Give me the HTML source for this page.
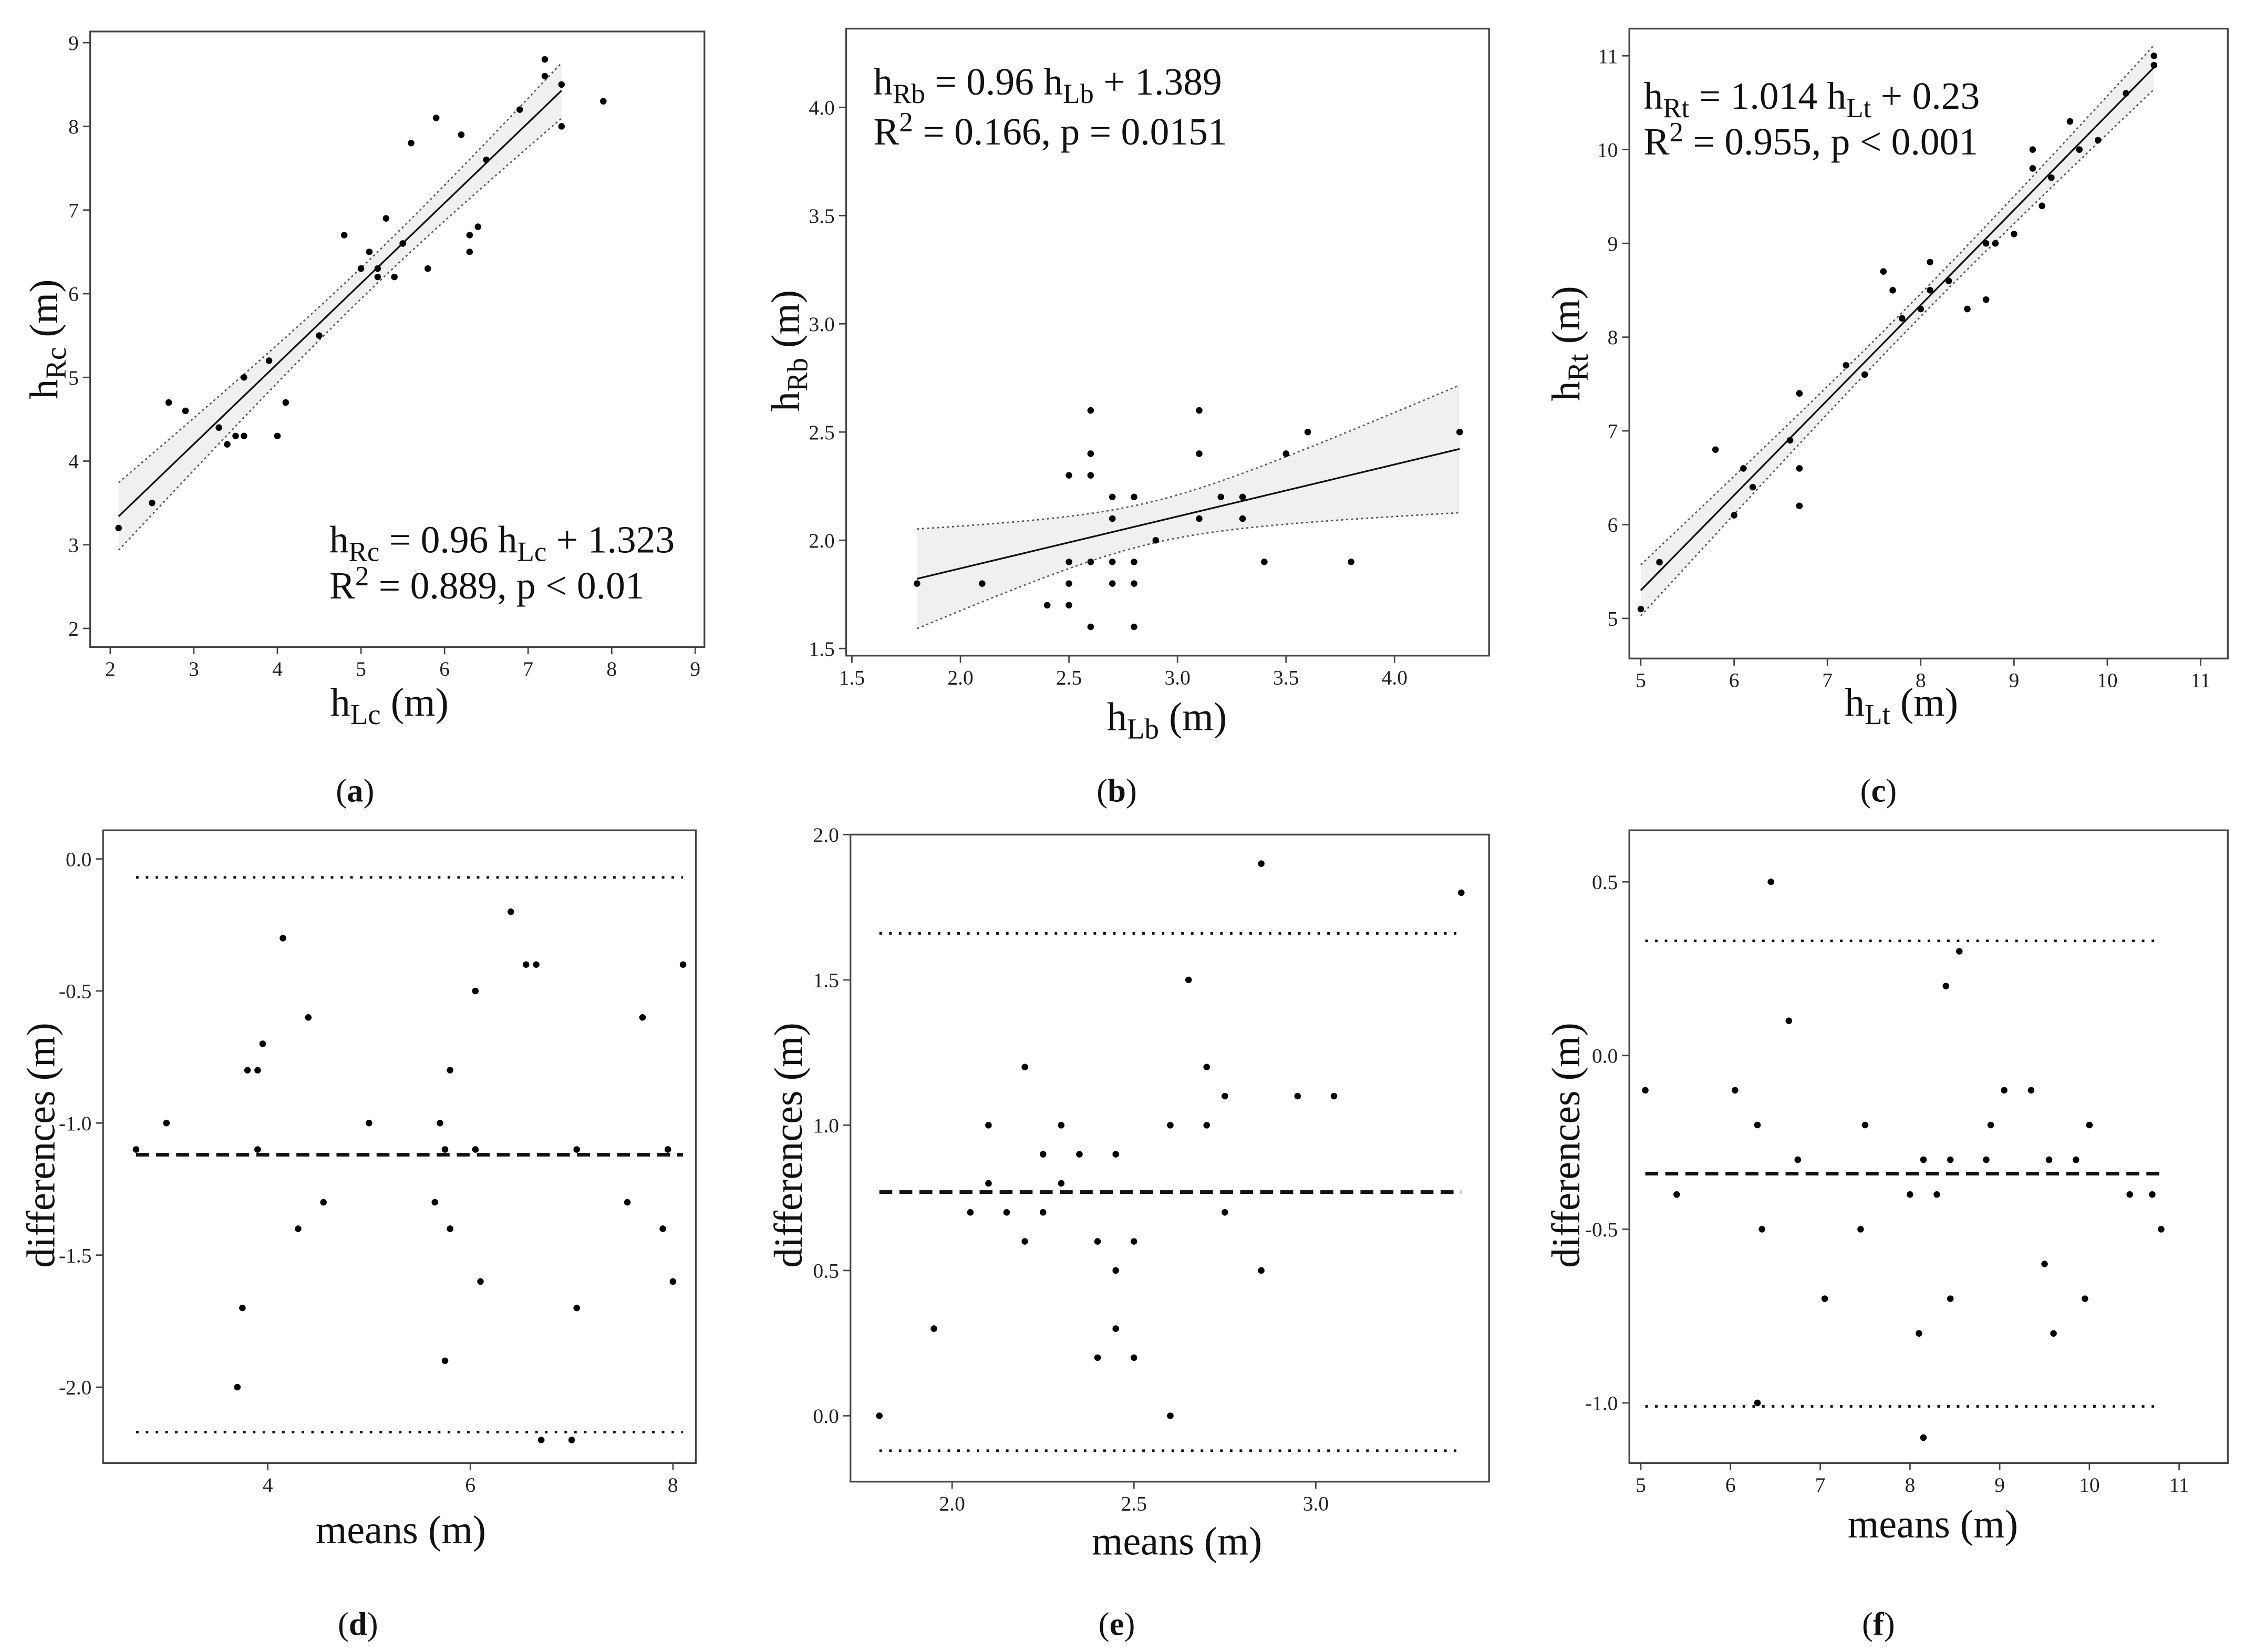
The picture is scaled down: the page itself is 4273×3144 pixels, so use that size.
<!DOCTYPE html>
<html><head><meta charset="utf-8"><style>
html,body{margin:0;padding:0;background:#fff;}
svg{display:block;font-family:"Liberation Serif",serif;}
</style></head><body>
<svg id="fig" xmlns="http://www.w3.org/2000/svg" width="4273" height="3144" viewBox="0 0 1568 1154" preserveAspectRatio="none"></svg>
<script>
// ---- data ----
const aX=[2.1,2.5,2.7,2.9,3.3,3.4,3.5,3.6,3.6,3.9,4.0,4.1,4.5,4.8,5.0,5.1,5.2,5.2,5.3,5.4,5.5,5.6,5.8,5.9,6.2,6.3,6.3,6.4,6.5,6.9,7.2,7.2,7.4,7.4,7.9];
const aY=[3.2,3.5,4.7,4.6,4.4,4.2,4.3,4.3,5.0,5.2,4.3,4.7,5.5,6.7,6.3,6.5,6.2,6.3,6.9,6.2,6.6,7.8,6.3,8.1,7.9,6.7,6.5,6.8,7.6,8.2,8.8,8.6,8.5,8.0,8.3];
const aFit=[0.96,1.323];
const aRange=[2.1,7.4];
const bX=[1.8,2.1,2.4,2.5,2.5,2.5,2.5,2.6,2.6,2.6,2.6,2.6,2.7,2.7,2.7,2.7,2.8,2.8,2.8,2.8,2.9,3.1,3.1,3.1,3.2,3.3,3.3,3.4,3.5,3.6,3.8,4.3];
const bY=[1.8,1.8,1.7,2.3,1.9,1.8,1.7,2.6,2.4,2.3,1.9,1.6,2.2,2.1,1.9,1.8,2.2,1.9,1.8,1.6,2.0,2.6,2.4,2.1,2.2,2.2,2.1,1.9,2.4,2.5,1.9,2.5];
const bFit=[0.24,1.39];
const bRange=[1.8,4.3];
const cX=[5.0,5.2,5.8,6.0,6.1,6.2,6.6,6.7,6.7,6.7,7.2,7.4,7.6,7.7,7.8,8.0,8.1,8.1,8.3,8.5,8.7,8.7,8.8,9.0,9.2,9.2,9.3,9.4,9.6,9.7,9.9,10.2,10.5,10.5];
const cY=[5.1,5.6,6.8,6.1,6.6,6.4,6.9,7.4,6.6,6.2,7.7,7.6,8.7,8.5,8.2,8.3,8.5,8.8,8.6,8.3,8.4,9.0,9.0,9.1,10.0,9.8,9.4,9.7,10.3,10.0,10.1,10.6,11.0,10.9];
const cFit=[1.014,0.23];
const cRange=[5.0,10.5];
const dX=[2.7,3.0,3.7,3.75,3.8,3.9,3.9,3.95,4.15,4.3,4.4,4.55,5.0,5.65,5.7,5.75,5.75,5.8,5.8,6.05,6.05,6.1,6.4,6.55,6.65,6.7,7.0,7.05,7.05,7.55,7.7,7.9,7.95,8.0,8.1];
const dY=[-1.1,-1.0,-2.0,-1.7,-0.8,-0.8,-1.1,-0.7,-0.3,-1.4,-0.6,-1.3,-1.0,-1.3,-1.0,-1.1,-1.9,-0.8,-1.4,-0.5,-1.1,-1.6,-0.2,-0.4,-0.4,-2.2,-2.2,-1.7,-1.1,-1.3,-0.6,-1.4,-1.1,-1.6,-0.4];
const dLines=[-1.12,-0.07,-2.17];
const eX=[1.8,1.95,2.05,2.1,2.1,2.15,2.2,2.2,2.25,2.25,2.3,2.3,2.35,2.4,2.4,2.45,2.45,2.45,2.5,2.5,2.6,2.6,2.65,2.7,2.7,2.75,2.75,2.85,2.85,2.95,3.05,3.4];
const eY=[0.0,0.3,0.7,1.0,0.8,0.7,1.2,0.6,0.9,0.7,1.0,0.8,0.9,0.6,0.2,0.9,0.5,0.3,0.6,0.2,1.0,0.0,1.5,1.2,1.0,1.1,0.7,1.9,0.5,1.1,1.1,1.8];
const eLines=[0.77,1.66,-0.12];
const fX=[5.05,5.4,6.05,6.3,6.3,6.35,6.45,6.65,6.75,7.05,7.45,7.5,8.0,8.1,8.15,8.15,8.3,8.4,8.45,8.45,8.55,8.85,8.9,9.05,9.35,9.5,9.55,9.6,9.85,9.95,10.0,10.45,10.7,10.8];
const fY=[-0.1,-0.4,-0.1,-0.2,-1.0,-0.5,0.5,0.1,-0.3,-0.7,-0.5,-0.2,-0.4,-0.8,-0.3,-1.1,-0.4,0.2,-0.3,-0.7,0.3,-0.3,-0.2,-0.1,-0.1,-0.6,-0.3,-0.8,-0.3,-0.7,-0.2,-0.4,-0.4,-0.5];
const fLines=[-0.34,0.33,-1.01];
const aTicksX=[2,3,4,5,6,7,8,9], aTicksY=[2,3,4,5,6,7,8,9];
const bTicksX=["1.5","2.0","2.5","3.0","3.5","4.0"], bTicksY=["1.5","2.0","2.5","3.0","3.5","4.0"];
const cTicksX=[5,6,7,8,9,10,11], cTicksY=[5,6,7,8,9,10,11];
const dTicksX=[4,6,8], dTicksY=["0.0","-0.5","-1.0","-1.5","-2.0"];
const eTicksX=["2.0","2.5","3.0"], eTicksY=["0.0","0.5","1.0","1.5","2.0"];
const fTicksX=[5,6,7,8,9,10,11], fTicksY=["0.5","0.0","-0.5","-1.0"];

// ---- drawing ----
const NS="http://www.w3.org/2000/svg";
const svg=document.getElementById('fig');
function mk(tag,attrs,parent){const e=document.createElementNS(NS,tag);for(const k in attrs)e.setAttribute(k,attrs[k]);(parent||svg).appendChild(e);return e;}
function panel(cfg){
  const g=mk('g',{});
  
  
  const sx=v=>cfg.px0+(v-cfg.vx0)*(cfg.px1-cfg.px0)/(cfg.vx1-cfg.vx0);
  const sy=v=>cfg.py0+(v-cfg.vy0)*(cfg.py1-cfg.py0)/(cfg.vy1-cfg.vy0);
  const box=mk('rect',{x:cfg.L,y:cfg.T,width:cfg.R-cfg.L,height:cfg.B-cfg.T,fill:'#fff',stroke:'#444','stroke-width':1.2},g);
  
  
  cfg.tx.forEach(t=>{const x=sx(+t);
    mk('line',{x1:x,x2:x,y1:cfg.B,y2:cfg.B+5,stroke:'#444','stroke-width':1},g);
    const tt=mk('text',{x:x,y:cfg.B+20,'font-size':14.5,'text-anchor':'middle',fill:'#222'},g);tt.textContent=t;
    
    });
  cfg.ty.forEach(t=>{const y=sy(+t);
    mk('line',{x1:cfg.L-5,x2:cfg.L,y1:y,y2:y,stroke:'#444','stroke-width':1},g);
    const tt=mk('text',{x:cfg.L-8,y:y+5,'font-size':14.5,'text-anchor':'end',fill:'#222'},g);tt.textContent=t;
    
    });
  if(cfg.fit){
    const X=cfg.X,Y=cfg.Y,n=X.length,[m,c]=cfg.fit;
    const xm=X.reduce((a,b)=>a+b,0)/n;let sxx=0,ss=0;
    X.forEach((x,i)=>{sxx+=(x-xm)**2;ss+=(Y[i]-(m*x+c))**2;});
    const s=Math.sqrt(ss/(n-2));
    const hw=x=>2.03*s*Math.sqrt(1/n+(x-xm)**2/sxx);
    const [x0,x1]=cfg.range;const N=40;const up=[],lo=[];
    for(let i=0;i<=N;i++){const x=x0+(x1-x0)*i/N;up.push([sx(x),sy(m*x+c+hw(x))]);lo.push([sx(x),sy(m*x+c-hw(x))]);}
    const band=mk('path',{d:'M'+up.map(p=>p.join(',')).join('L')+'L'+lo.slice().reverse().map(p=>p.join(',')).join('L')+'Z',fill:'#f0f0f0',stroke:'none'},g);
    
    
    [up,lo].forEach(arr=>{const l=mk('path',{d:'M'+arr.map(p=>p.join(',')).join('L'),fill:'none',stroke:'#555','stroke-width':1,'stroke-dasharray':'1.5,2'},g);
      
      });
    const fl=mk('line',{x1:sx(x0),y1:sy(m*x0+c),x2:sx(x1),y2:sy(m*x1+c),stroke:'#111','stroke-width':1.2},g);
    
    
  }
  if(cfg.lines){
    const x0=Math.min(...cfg.X),x1=Math.max(...cfg.X);
    cfg.lines.forEach((v,i)=>{const l=mk('line',{x1:sx(x0),x2:sx(x1),y1:sy(v),y2:sy(v),stroke:'#111','stroke-width':i==0?2.6:1.8,'stroke-dasharray':i==0?'9,5':'1.8,5'},g);
      
      });
  }
  cfg.X.forEach((x,i)=>{const p=mk('circle',{cx:sx(x),cy:sy(cfg.Y[i]),r:2.3,fill:'#000'},g);
    
    });
  return g;
}
function label(html,x,y,size,name,rot,anchor){
  const t=mk('text',{x:x,y:y,'font-size':size,'text-anchor':anchor||'middle',fill:'#111'});
  if(rot)t.setAttribute('transform',`rotate(-90 ${x} ${y})`);
  t.innerHTML=html;
  
  
}
const sub=s=>`<tspan font-size="0.72em" baseline-shift="-6">${s}</tspan>`;
const sup=s=>`<tspan font-size="0.72em" baseline-shift="9">${s}</tspan>`;

panel({name:'panel-a',X:aX,Y:aY,fit:aFit,range:aRange,L:63,R:492,T:22,B:452,px0:77,px1:485.6,vx0:2,vx1:9,py0:29.8,py1:439,vy0:9,vy1:2,tx:aTicksX,ty:aTicksY});
panel({name:'panel-b',X:bX,Y:bY,fit:bFit,range:bRange,L:591,R:1040,T:20,B:458,px0:595,px1:974,vx0:1.5,vx1:4.0,py0:75,py1:453,vy0:4.0,vy1:1.5,tx:bTicksX,ty:bTicksY});
panel({name:'panel-c',X:cX,Y:cY,fit:cFit,range:cRange,L:1138,R:1556,T:20,B:460,px0:1146,px1:1537,vx0:5,vx1:11,py0:39,py1:432,vy0:11,vy1:5,tx:cTicksX,ty:cTicksY});
panel({name:'panel-d',X:dX,Y:dY,lines:dLines,L:72,R:486,T:580,B:1022,px0:187,px1:470,vx0:4,vx1:8,py0:600,py1:969,vy0:0,vy1:-2,tx:dTicksX,ty:dTicksY});
panel({name:'panel-e',X:eX,Y:eY,lines:eLines,L:594,R:1040,T:583,B:1035,px0:665,px1:919,vx0:2,vx1:3,py0:583,py1:989,vy0:2,vy1:0,tx:eTicksX,ty:eTicksY});
panel({name:'panel-f',X:fX,Y:fY,lines:fLines,L:1138,R:1556,T:580,B:1022,px0:1146,px1:1522,vx0:5,vx1:11,py0:616,py1:980,vy0:0.5,vy1:-1.0,tx:fTicksX,ty:fTicksY});

label('h'+sub('Lc')+' (m)',272,500,28,'x-axis-title-a');
label('h'+sub('Rc')+' (m)',40,237,28,'y-axis-title-a',true);
label('h'+sub('Lb')+' (m)',815,510,28,'x-axis-title-b');
label('h'+sub('Rb')+' (m)',558,245,28,'y-axis-title-b',true);
label('h'+sub('Lt')+' (m)',1328,500,28,'x-axis-title-c');
label('h'+sub('Rt')+' (m)',1103,240,28,'y-axis-title-c',true);
label('means (m)',280,1078,28,'x-axis-title-d');
label('differences (m)',38,800,28,'y-axis-title-d',true);
label('means (m)',822,1086,28,'x-axis-title-e');
label('differences (m)',560,800,28,'y-axis-title-e',true);
label('means (m)',1350,1074,28,'x-axis-title-f');
label('differences (m)',1103,800,28,'y-axis-title-f',true);

label('h'+sub('Rc')+' = 0.96 h'+sub('Lc')+' + 1.323',230,386,27,'equation-a',false,'start');
label('R'+sup('2')+' = 0.889, p &lt; 0.01',230,418,27,'r-squared-a',false,'start');
label('h'+sub('Rb')+' = 0.96 h'+sub('Lb')+' + 1.389',610,66,27,'equation-b',false,'start');
label('R'+sup('2')+' = 0.166, p = 0.0151',610,101,27,'r-squared-b',false,'start');
label('h'+sub('Rt')+' = 1.014 h'+sub('Lt')+' + 0.23',1148,76,27,'equation-c',false,'start');
label('R'+sup('2')+' = 0.955, p &lt; 0.001',1148,108,27,'r-squared-c',false,'start');

[['a',248,560],['b',780,560],['c',1312,560],['d',250,1142],['e',780,1142],['f',1312,1142]].forEach(([l,x,y])=>{
  label(`(<tspan font-weight="bold">${l}</tspan>)`,x,y,23,'panel-label-'+l);
});
</script>
</body></html>
